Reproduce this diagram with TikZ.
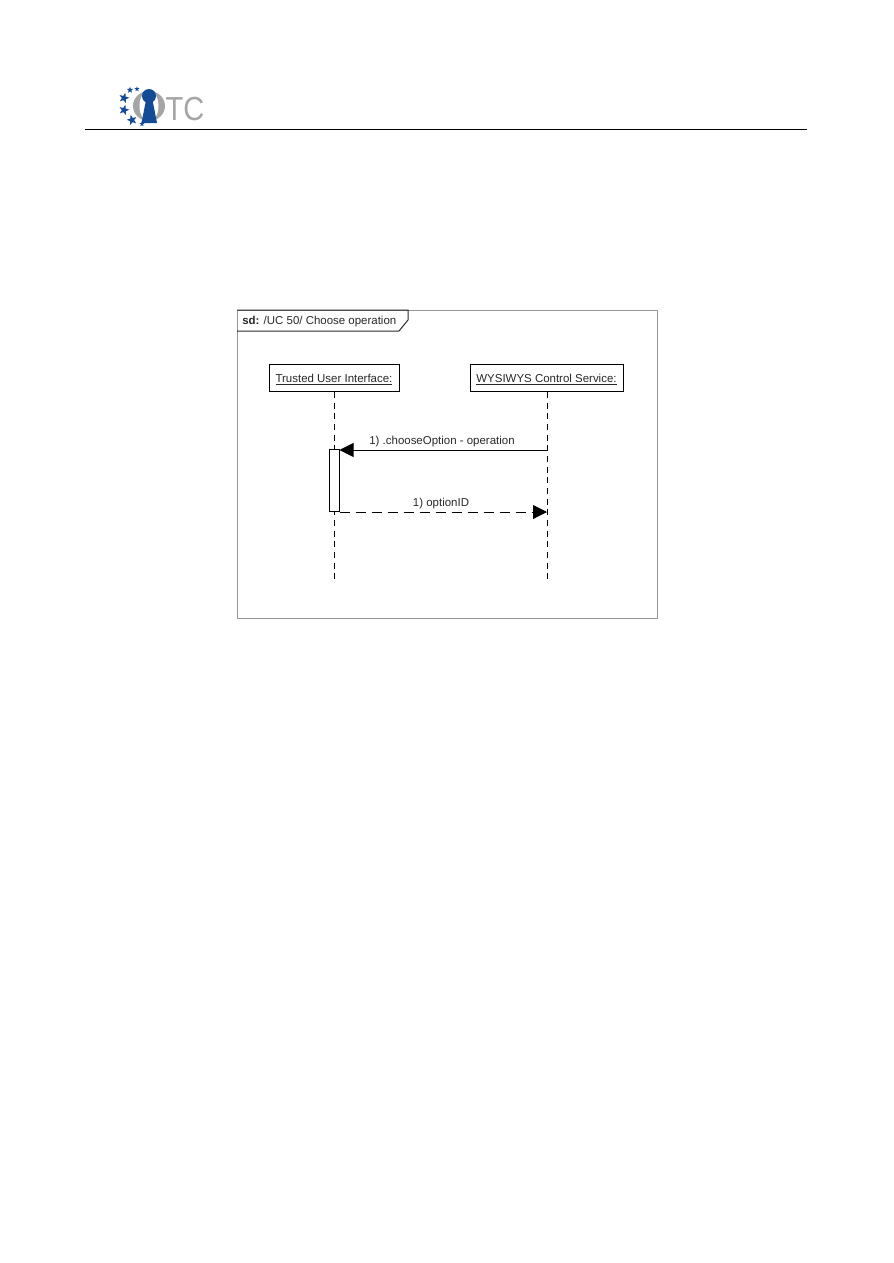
\documentclass[tikz,border=0pt]{standalone}
\usepackage{fontspec}
\setmainfont{Liberation Sans}
\usepackage{xcolor}
\usetikzlibrary{shapes.geometric}
\usetikzlibrary{arrows.meta}
\usetikzlibrary{positioning}
\definecolor{logoblue}{RGB}{20,75,150}
\definecolor{logogray}{RGB}{165,165,165}
\definecolor{framegray}{RGB}{150,150,150}
\definecolor{inkgray}{RGB}{40,40,40}
\begin{document}
\begin{tikzpicture}[
  x=0.75pt,y=-0.75pt,
  every node/.style={font=\fontsize{8.6pt}{10pt}\selectfont,text=inkgray,inner sep=0pt},
  lifebox/.style={draw=black,line width=0.75pt,fill=white,minimum height=20.5pt,text height=9pt,text depth=2.5pt},
  lifeline/.style={draw=black,line width=0.75pt,dash pattern=on 4.5pt off 3.5pt},
  callmsg/.style={draw=black,line width=0.75pt,-{Triangle[length=10.5pt,width=10.5pt]}},
  replymsg/.style={callmsg,dash pattern=on 7.5pt off 4.5pt},
  activation/.style={draw=black,line width=0.75pt,fill=white,minimum width=7.5pt,minimum height=46pt},
  logostar/.style={star,star points=5,star point ratio=2.4,fill=logoblue,minimum size=#1}
]
\useasboundingbox (0,0) rectangle (893,1263);

% header logo
\fill[logogray] (149,106) ellipse (16 and 15);
\fill[white] (149,106) ellipse (9.5 and 15.5);
\fill[logoblue] (149,96) circle (7);
\fill[logoblue] (146,100) -- (141.5,123) -- (157,123) -- (152.5,100) -- cycle;
\node[logostar=8pt,rotate=-15] (s1) at (124,98) {};
\node[logostar=8pt,rotate=-15] (s2) at (124,110) {};
\node[logostar=8pt,rotate=15] (s3) at (132,120) {};
\node[logostar=5pt] (s4) at (130,90) {};
\node[logostar=4pt] (s5) at (137,89) {};
\node[logostar=4pt] (s6) at (142,124) {};
\node[font=\fontsize{25pt}{25pt}\selectfont,text=logogray,xscale=0.87] (logotext) at (185,109) {TC};
\coordinate (ruleL) at (85,129);
\coordinate (ruleR) at (807,129);
\draw[line width=0.75pt] (ruleL) -- (ruleR);

% frame
\draw[framegray,line width=0.75pt] (237,310) rectangle (657,618);
\draw[inkgray,line width=0.75pt] (237,331) -- (399,331) -- (408,320) -- (408,310) -- (237,310);
\node[anchor=west] (title) at (242,321.5) {\textbf{sd:} /UC 50/ Choose operation};

% lifelines
\node[lifebox,minimum width=97.5pt] (tui) at (334,377.75) {\underline{Trusted User Interface:}};
\node[lifebox,minimum width=114.75pt] (wcs) at (546.5,377.75) {\underline{WYSIWYS Control Service:}};
\coordinate (tuiEnd) at (334,581);
\coordinate (wcsEnd) at (547,581);
\draw[lifeline] (tui) -- (tuiEnd);
\draw[lifeline] (wcs.south -| wcsEnd) -- (wcsEnd);
\node[activation] (act) at (334,480.5) {};

% messages
\coordinate (callStart) at (547,450);
\coordinate (replyEnd) at (547,512);
\draw[callmsg] (callStart) -- (callStart -| act.east);
\draw[replymsg] (replyEnd -| act.east) -- (replyEnd);
\node (call) at (442,442) {1) .chooseOption - operation};
\node (reply) at (441,504) {1) optionID};
\end{tikzpicture}
\end{document}
